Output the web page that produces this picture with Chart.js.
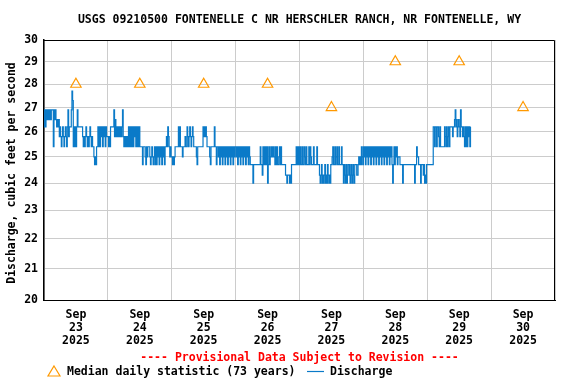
<!DOCTYPE html>
<html>
<head>
<meta charset="utf-8">
<script src="https://cdn.jsdelivr.net/npm/chart.js@4.4.0/dist/chart.umd.min.js"></script>
<style>
  html, body { margin: 0; padding: 0; background: #fff; }
</style>
</head>
<body>
<canvas id="myChart" width="576" height="384"></canvas>
<script>
// textos del grafico
const titleText = 'USGS 09210500 FONTENELLE C NR HERSCHLER RANCH, NR FONTENELLE, WY';
const yAxisTitle = 'Discharge, cubic feet per second';
const provisionalText = '---- Provisional Data Subject to Revision ----';
const medianLabel = 'Median daily statistic (73 years)';
const dischargeLabel = 'Discharge';

// eje x: un dia cada 24 horas, desde Sep 23 00:00
const monthLabel = 'Sep';
const yearLabel = '2025';
const dayLabels = ['23', '24', '25', '26', '27', '28', '29', '30'];

// eje y (logaritmico)
const yTicks = [20, 21, 22, 23, 24, 25, 26, 27, 28, 29, 30];

// mediana diaria (73 años), una por dia
const medianValues = [28, 28, 28, 28, 27, 29, 29, 27];

// niveles de caudal que aparecen en la serie (cfs)
const levels = [24.0, 24.3, 24.7, 25.0, 25.4, 25.8, 26.2, 26.5, 26.9, 27.3, 27.7];

// lecturas cada 15 min, un string por dia, cada caracter = indice en levels
const dischargeDays = [
    '686' + '87878787' + '888' + '4' + '878' + '76767' + '565456545654685' + '666' + '8' + 'a' + '9' +
    '46464' + '68' + '6666666' + '545456545456545' + '4432324' + '4646465646564655',
    '5454' + '66666' + '8' + '575656565656' + '8' + '54545454' + '646464646564646464' + '444' + '2' +
    '4443' + '2' + '4344' + '43234323' + '4242' + '434243424342' + '44546' + '54343',
    '32323' + '44444' + '6464' + '4434' + '44544' + '6545654565' + '44443' + '2' + '44444444' +
    '656565' + '44443244444' + '6' + '4424' + '434243424342434243424342434',
    '4342434243424342434243' + '22220' + '2222' + '22222242' + '2142424240242' + '3434343' +
    '2424223424' + '222222' + '110111010' + '2222222' + '42424',
    '24224224324222424322242222422' + '210120101201021010' + '223422423422422242' +
    '20210201221021021022' + '21123232432',
    '43424342434243424342434243424342434243424342' + '0242' + '4342' + '3' + '3322' +
    '22022222222222222222022' + '43322202' + '22120102',
    '222222222' + '6' + '646646654644' + '44446' + '54645646' + '66656678' + '675676586' +
    '65654' + '646465646'
];

// se arma la serie de puntos {x: horas, y: cfs}
const dischargePoints = dischargeDays.join('').split('').map((c, i) => ({
    x: i * 0.25,
    y: levels[parseInt(c, 16)]
}));

const medianPoints = medianValues.map((v, i) => ({ x: i * 24 + 12, y: v }));

const monoFont = '"DejaVu Sans Mono", "Liberation Mono", monospace';

// plugin para titulo, marco, leyenda y textos extra
const decorPlugin = {
    id: 'decor',
    afterDraw(chart) {
        const { ctx, chartArea: a } = chart;
        const cx = (a.left + a.right) / 2;
        ctx.save();
        // marco superior y derecho
        ctx.strokeStyle = '#000';
        ctx.lineWidth = 1;
        ctx.beginPath();
        ctx.moveTo(a.left, a.top + 0.5);
        ctx.lineTo(a.right - 0.5, a.top + 0.5);
        ctx.lineTo(a.right - 0.5, a.bottom);
        ctx.stroke();

        ctx.fillStyle = '#000';
        ctx.textBaseline = 'middle';
        ctx.textAlign = 'center';
        ctx.font = 'bold 11.5px ' + monoFont;
        ctx.fillText(titleText, cx, 20);

        // titulo eje y
        ctx.save();
        ctx.translate(12, 173);
        ctx.rotate(-Math.PI / 2);
        ctx.fillText(yAxisTitle, 0, 0);
        ctx.restore();

        // texto provisional
        ctx.fillStyle = '#ff0000';
        ctx.fillText(provisionalText, cx, 358);

        // leyenda
        ctx.fillStyle = '#000';
        ctx.textAlign = 'left';
        ctx.fillText(medianLabel, 67, 372);
        ctx.fillText(dischargeLabel, 330, 372);
        ctx.strokeStyle = '#ff9900';
        ctx.lineWidth = 1.2;
        ctx.beginPath();
        ctx.moveTo(54, 366);
        ctx.lineTo(60, 376);
        ctx.lineTo(48, 376);
        ctx.closePath();
        ctx.stroke();
        ctx.strokeStyle = '#0a7ac8';
        ctx.lineWidth = 1.2;
        ctx.beginPath();
        ctx.moveTo(307, 371.5);
        ctx.lineTo(324, 371.5);
        ctx.stroke();
        ctx.restore();
    }
};

const ctx = document.getElementById('myChart').getContext('2d');
window.myChart = new Chart(ctx, {
    type: 'line',
    data: {
        datasets: [{
                label: dischargeLabel,
                data: dischargePoints,
                borderColor: '#0a7ac8',
                borderWidth: 1.2,
                pointRadius: 0,
                stepped: true,
                fill: false
            },
            {
                label: medianLabel,
                data: medianPoints,
                showLine: false,
                pointStyle: 'triangle',
                pointRadius: 6,
                borderColor: '#ff9900',
                borderWidth: 1.2,
                backgroundColor: 'rgba(0,0,0,0)'
            }
        ]
    },
    options: {
        responsive: false,
        animation: false,
        devicePixelRatio: 1,
        layout: {
            padding: { top: 40, right: 21, left: 0, bottom: 0 }
        },
        plugins: {
            legend: { display: false },
            tooltip: { enabled: false }
        },
        scales: {
            x: {
                type: 'linear',
                min: 0,
                max: 192,
                afterBuildTicks: (scale) => {
                    const t = [];
                    for (let h = 0; h <= 192; h += 12) t.push({ value: h });
                    scale.ticks = t;
                },
                afterFit: (scale) => { scale.height = 84; },
                grid: {
                    drawTicks: false,
                    color: (c) => (c.tick && c.tick.value % 24 === 0) ? '#cccccc' : 'rgba(0,0,0,0)'
                },
                border: { display: true, color: '#000', width: 1 },
                ticks: {
                    autoSkip: false,
                    maxRotation: 0,
                    padding: 8,
                    color: '#000',
                    font: { family: monoFont, size: 11.5, weight: 'bold', lineHeight: 1.15 },
                    callback: (v) => {
                        if (v % 24 !== 12) return '';
                        return [monthLabel, dayLabels[(v - 12) / 24], yearLabel];
                    }
                }
            },
            y: {
                type: 'logarithmic',
                min: 20,
                max: 30,
                afterBuildTicks: (scale) => {
                    scale.ticks = yTicks.map(v => ({ value: v }));
                },
                afterFit: (scale) => { scale.width = 44; },
                grid: { drawTicks: false, color: '#cccccc' },
                border: { display: true, color: '#000', width: 1.5 },
                ticks: {
                    padding: 6,
                    color: '#000',
                    font: { family: monoFont, size: 11.5, weight: 'bold' },
                    callback: (v) => String(v)
                }
            }
        }
    },
    plugins: [decorPlugin]
});
</script>
</body>
</html>
